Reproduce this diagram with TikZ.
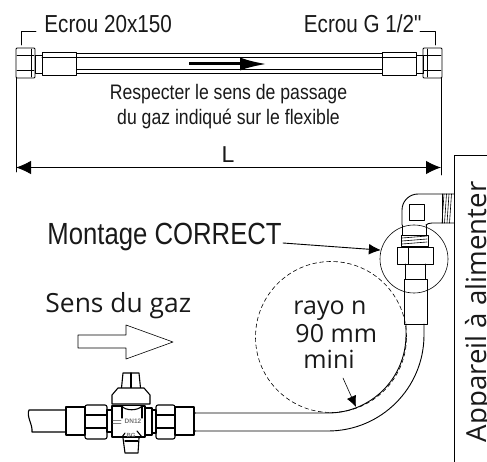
\documentclass[tikz,border=0pt]{standalone}
\usepackage{fontspec}
\usetikzlibrary{arrows.meta}
\setmainfont{Liberation Sans}
\newfontfamily\narrowfont[FakeStretch=.84]{Liberation Sans}
\newfontfamily\opensans{Open Sans}
\begin{document}
\begin{tikzpicture}[x=1pt, y=-1pt, line cap=round, line join=round, line width=.9pt,
    tip/.style={-{Latex[length=#1pt,width=.9*#1pt]}},
    thin line/.style={line width=.6pt},
    label/.style={inner sep=0pt, text=black!90}]
    \useasboundingbox (0,0) rectangle (487,462);

    % flexible
    \draw (76,53) -- (382,53);
    \draw (76,57) -- (382,57);
    \draw (76,69) -- (382,69);
    \draw (76,73) -- (382,73);
    \draw[fill=white, rounded corners=1pt] (16,48) rectangle (35,78);
    \draw (17,55) -- (34,55);
    \draw (17,70) -- (34,70);
    \draw (31,49) -- (31,77);
    \draw (35,55) rectangle (42,73);
    \draw[fill=white] (42,52) rectangle (76,75);
    \draw (42,57) -- (76,57);
    \draw[fill=white, rounded corners=1pt] (423,48) rectangle (442,78);
    \draw (424,55) -- (441,55);
    \draw (424,70) -- (441,70);
    \draw (427,49) -- (427,77);
    \draw (416,55) rectangle (423,73);
    \draw[fill=white] (382,52) rectangle (416,75);
    \draw (382,57) -- (416,57);

    % sens du flexible
    \coordinate (flowstart) at (189,64);
    \coordinate (flowend) at (267,64);
    \draw[line width=3pt, line cap=butt, -{Latex[length=27pt,width=13pt]}] (flowstart) -- (flowend);

    % ecrous
    \node[label, anchor=base west, font=\narrowfont\fontsize{24.6}{24.6}\selectfont] (ecroua) at (44,33) {Ecrou 20x150};
    \node[label, anchor=base east, font=\narrowfont\fontsize{24.6}{24.6}\selectfont] (ecroub) at (422,33) {Ecrou G 1/2"};
    \coordinate (ecrouaend) at (21.5,45);
    \coordinate (ecroubend) at (435,45);
    \draw[thin line] (36,31) -| (ecrouaend);
    \draw[thin line] (420,31) -| (ecroubend);

    \node[label, align=center, font=\narrowfont\fontsize{21}{25}\selectfont] (respect) at (228.5,107)
        {Respecter le sens de passage\\du gaz indiqué sur le flexible};

    % cote L
    \coordinate (dimleft) at (16,167.5);
    \coordinate (dimright) at (441,167.5);
    \draw[thin line] (16,78) -- (16,172);
    \draw[thin line] (441,78) -- (441,175);
    \draw[tip=15] (228,167.5) -- (dimright);
    \draw[tip=15] (228,167.5) -- (dimleft);
    \node[label, anchor=base, font=\fontsize{23}{23}\selectfont] (long) at (228,163) {L};

    % appareil
    \draw (487,155.5) -- (454.5,155.5) -- (454.5,462);
    \node[label, rotate=90, anchor=base west, font=\opensans\fontsize{27.6}{27.6}\selectfont] (appareil) at (486,442.5) {Appareil à alimenter};

    % coude
    \draw (402,225) -- (402,210) arc[start angle=180, end angle=270, radius=16] -- (454.5,194);
    \draw (426,225) .. controls (427,224) and (429,223) .. (432,223) -- (454.5,223);
    \draw (409,204) rectangle (424,220);
    \draw (442,194) -- (442,223);
    \foreach \i in {0,1,2,3}
        \draw[thin line] (444+2.5*\i,194) -- (442+2.5*\i,223);
    \draw (401,235) rectangle (428,246);
    \draw (402,225) -- (402,235);
    \draw (426,225) -- (426,235);
    \draw[thin line] (402,238) -- (427,236);
    \draw[thin line] (402,241) -- (427,239);
    \draw[thin line] (402,244) -- (427,242);
    \draw (397,247) rectangle (433,264);
    \draw (408,247) -- (408,264);
    \draw (405,264) -- (405,279);
    \draw (425,264) -- (425,279);
    \draw (404,279) rectangle (427,324);

    % tuyau
    \draw (406,324) -- (406,335) arc[start angle=0, end angle=90, radius=78] -- (195,413);
    \draw (424,324) -- (424,335) arc[start angle=0, end angle=90, radius=96] -- (195,431);

    % rayon
    \node[circle, draw, thin line, dash pattern=on 4pt off 3pt, minimum size=151pt, inner sep=0pt] (rayon) at (331,337) {};
    \node[circle, draw, thin line, minimum size=68pt, inner sep=0pt] (detail) at (414,259) {};
    \node[label, anchor=base west, font=\opensans\fontsize{25}{25}\selectfont] (rayona) at (293,314) {rayo n};
    \node[label, anchor=base west, font=\opensans\fontsize{25}{25}\selectfont] (rayonb) at (295,342) {90 mm};
    \node[label, anchor=base west, font=\opensans\fontsize{25}{25}\selectfont] (rayonc) at (303,368) {mini};
    \coordinate (rayonstart) at (343,378);
    \coordinate (rayonend) at (356,407);
    \draw[thin line, tip=11] (rayonstart) -- (rayonend);

    % textes
    \node[label, anchor=base west, font=\narrowfont\fontsize{30.6}{30.6}\selectfont] (montage) at (47,245) {Montage CORRECT};
    \coordinate (montagestart) at (283,243);
    \draw[tip=12] (montagestart) -- (detail.165);
    \node[label, anchor=base west, font=\opensans\fontsize{26.4}{26.4}\selectfont] (sens) at (45,312.5) {Sens du gaz};

    % fleche du gaz
    \draw[thin line] (78,335) -- (126,335) -- (126,325) -- (173,342) -- (126,359) -- (126,348) -- (78,348) -- cycle;

    % vanne
    \begin{scope}[line width=1.1pt]
    \draw (66,410) -- (29,410) .. controls (26,416) and (33,425) .. (32,432) -- (66,432);
    \draw (66,407) rectangle (85,435);
    \draw[rounded corners=2pt] (85,405) rectangle (107,439);
    \draw (85,415) -- (107,415);
    \draw (85,428) -- (107,428);
    \draw (107,410) rectangle (112,432);
    \draw (112,406) rectangle (145,437);
    \draw (145,408) rectangle (152,435);
    \draw (152,410) rectangle (156,433);
    \draw[rounded corners=2pt] (156,405) rectangle (175,439);
    \draw (156,415) -- (175,415);
    \draw (156,428) -- (175,428);
    \draw (175,407) rectangle (194,435);
    \draw (194,413) -- (195,413);
    \draw (194,431) -- (195,431);
    % poignee
    \draw[fill=white] (123,373) -- (139,373) -- (141,393) -- (121,393) -- cycle;
    \draw (131,373) -- (131,393);
    \draw[fill=white] (118,388) -- (144,388) -- (150,395) -- (150,404) -- (112,404) -- (112,395) -- cycle;
    \draw[fill=white] (122,406) .. controls (125,411) and (138,411) .. (142,406);
    \draw (123,438) -- (125,453) -- (138,453) -- (139,438);
    \draw (125,441) -- (138,441);
    \draw (122,406) -- (122,418) (142,406) -- (142,418);
    \draw (122,437) -- (125,433) (142,437) -- (137,431);
    \end{scope}
    \node[label, text=black!55, font=\bfseries\fontsize{6.5}{6.5}\selectfont] (dn) at (133,421) {DN12};
    \node[label, text=black!55, font=\bfseries\fontsize{6}{6}\selectfont] (bg) at (131,435) {BG};
    \draw[thin line, black!50] (113,420) -- (121,420) (113,423) -- (121,423);
\end{tikzpicture}
\end{document}
